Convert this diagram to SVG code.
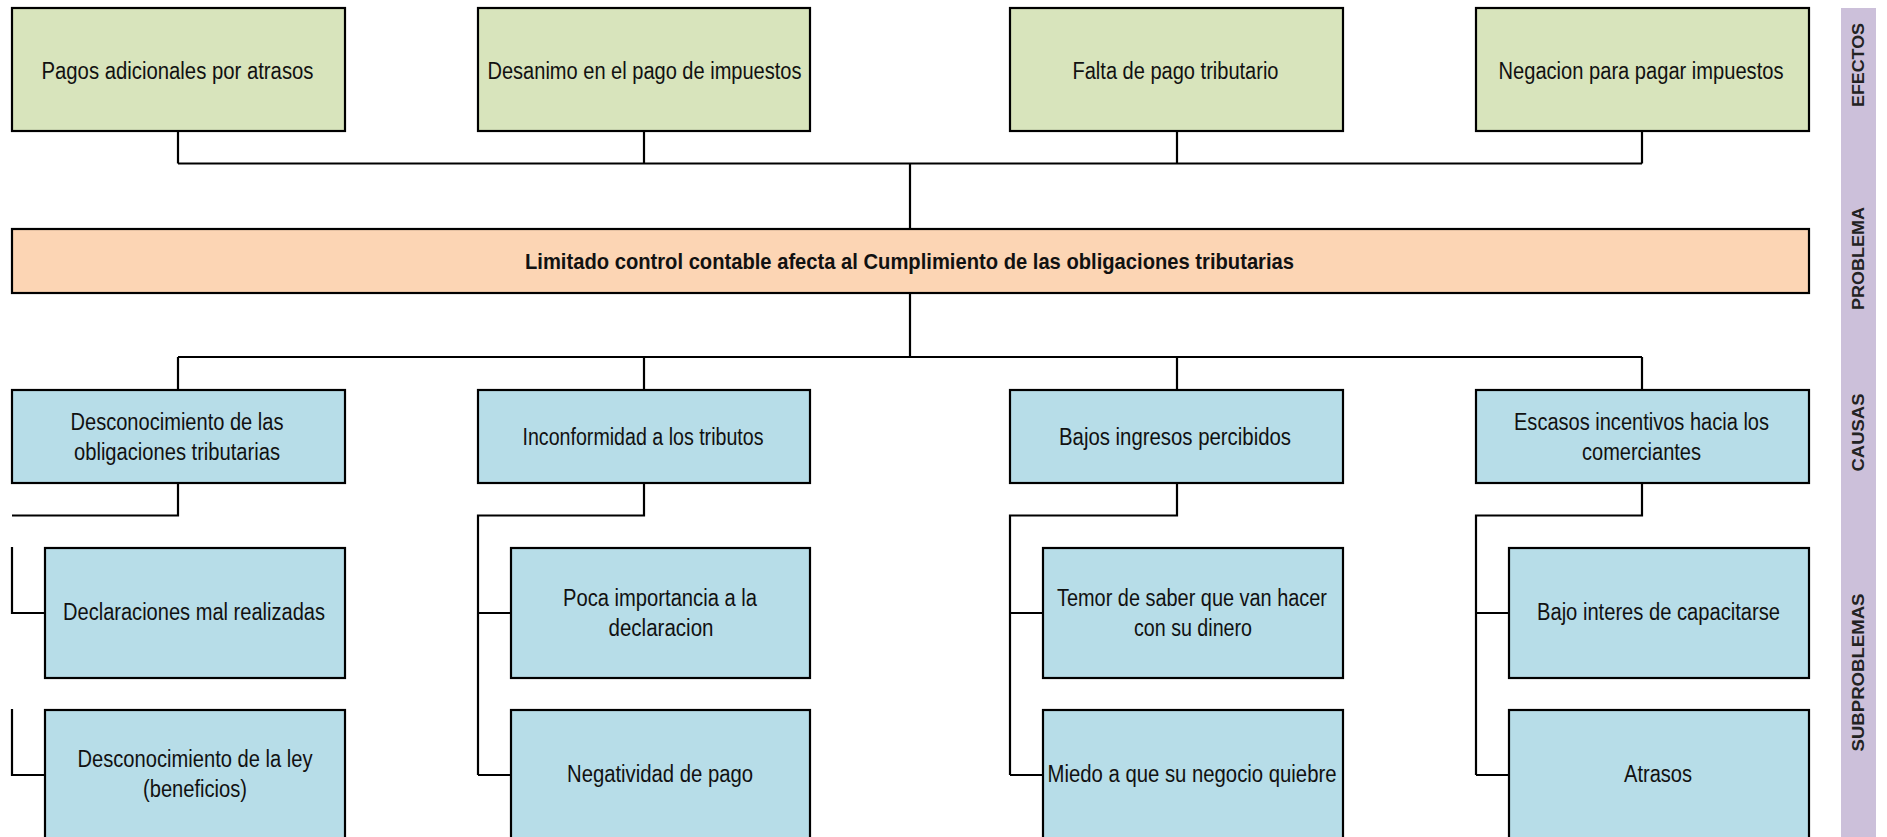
<svg xmlns="http://www.w3.org/2000/svg" width="1887" height="837" viewBox="0 0 1887 837">
<style>
.box{stroke:#000;stroke-width:2.2}
.ef{fill:#d8e4bc}
.pr{fill:#fcd5b4}
.ca{fill:#b7dde8}
.t{font-family:"Liberation Sans",Arial,sans-serif;font-size:23px;fill:#111;text-anchor:middle}
.tb{font-family:"Liberation Sans",Arial,sans-serif;font-size:22px;font-weight:bold;fill:#111;text-anchor:middle}
.lb{font-family:"Liberation Sans",Arial,sans-serif;font-size:16.3px;font-weight:bold;fill:#222;text-anchor:middle}
.c{fill:none;stroke:#000;stroke-width:2.2}
</style>
<rect x="0" y="0" width="1887" height="837" fill="#fff"/>

<g id="connectors">
<path class="c" d="M178,131 V163.5 M644,131 V163.5 M1177,131 V163.5 M1642,131 V163.5 M178,163.5 H1642 M910,163.5 V229"/>
<path class="c" d="M910,293 V357 M178,357 H1642 M178,357 V390 M644,357 V390 M1177,357 V390 M1642,357 V390"/>
<path class="c" d="M178,483 V515.5 H12 M12,547 V613 H45 M12,709 V775 H45"/>
<path class="c" d="M644,483 V515.5 H478 V775 M478,613 H511 M478,775 H511"/>
<path class="c" d="M1177,483 V515.5 H1010 V775 M1010,613 H1043 M1010,775 H1043"/>
<path class="c" d="M1642,483 V515.5 H1476 V775 M1476,613 H1509 M1476,775 H1509"/>
</g>

<g id="efecto1"><rect class="box ef" x="12" y="8" width="333" height="123"/><text class="t" x="177.5" y="78.5" textLength="272" lengthAdjust="spacingAndGlyphs">Pagos adicionales por atrasos</text></g>
<g id="efecto2"><rect class="box ef" x="478" y="8" width="332" height="123"/><text class="t" x="644.5" y="78.5" textLength="314" lengthAdjust="spacingAndGlyphs">Desanimo en el pago de impuestos</text></g>
<g id="efecto3"><rect class="box ef" x="1010" y="8" width="333" height="123"/><text class="t" x="1175.5" y="78.5" textLength="206" lengthAdjust="spacingAndGlyphs">Falta de pago tributario</text></g>
<g id="efecto4"><rect class="box ef" x="1476" y="8" width="333" height="123"/><text class="t" x="1641" y="78.5" textLength="285" lengthAdjust="spacingAndGlyphs">Negacion para pagar impuestos</text></g>

<g id="problema"><rect class="box pr" x="12" y="229" width="1797" height="64"/><text class="tb" x="909.5" y="268.5" textLength="769" lengthAdjust="spacingAndGlyphs">Limitado control contable afecta al Cumplimiento de las obligaciones tributarias</text></g>

<g id="causa1"><rect class="box ca" x="12" y="390" width="333" height="93"/><text class="t" x="177" y="430" textLength="213" lengthAdjust="spacingAndGlyphs">Desconocimiento de las</text><text class="t" x="177" y="460" textLength="206" lengthAdjust="spacingAndGlyphs">obligaciones tributarias</text></g>
<g id="causa2"><rect class="box ca" x="478" y="390" width="332" height="93"/><text class="t" x="643" y="445" textLength="241" lengthAdjust="spacingAndGlyphs">Inconformidad a los tributos</text></g>
<g id="causa3"><rect class="box ca" x="1010" y="390" width="333" height="93"/><text class="t" x="1175" y="445" textLength="232" lengthAdjust="spacingAndGlyphs">Bajos ingresos percibidos</text></g>
<g id="causa4"><rect class="box ca" x="1476" y="390" width="333" height="93"/><text class="t" x="1641.5" y="430" textLength="255" lengthAdjust="spacingAndGlyphs">Escasos incentivos hacia los</text><text class="t" x="1641.5" y="460" textLength="119" lengthAdjust="spacingAndGlyphs">comerciantes</text></g>

<g id="sub1a"><rect class="box ca" x="45" y="548" width="300" height="130"/><text class="t" x="194" y="620" textLength="262" lengthAdjust="spacingAndGlyphs">Declaraciones mal realizadas</text></g>
<g id="sub1b"><rect class="box ca" x="45" y="710" width="300" height="150"/><text class="t" x="195" y="767" textLength="235" lengthAdjust="spacingAndGlyphs">Desconocimiento de la ley</text><text class="t" x="195" y="797" textLength="104" lengthAdjust="spacingAndGlyphs">(beneficios)</text></g>
<g id="sub2a"><rect class="box ca" x="511" y="548" width="299" height="130"/><text class="t" x="660" y="605.5" textLength="194" lengthAdjust="spacingAndGlyphs">Poca importancia a la</text><text class="t" x="661" y="635.5" textLength="105" lengthAdjust="spacingAndGlyphs">declaracion</text></g>
<g id="sub2b"><rect class="box ca" x="511" y="710" width="299" height="150"/><text class="t" x="660" y="782" textLength="186" lengthAdjust="spacingAndGlyphs">Negatividad de pago</text></g>
<g id="sub3a"><rect class="box ca" x="1043" y="548" width="300" height="130"/><text class="t" x="1192" y="605.5" textLength="270" lengthAdjust="spacingAndGlyphs">Temor de saber que van hacer</text><text class="t" x="1193" y="635.5" textLength="118" lengthAdjust="spacingAndGlyphs">con su dinero</text></g>
<g id="sub3b"><rect class="box ca" x="1043" y="710" width="300" height="150"/><text class="t" x="1192" y="782" textLength="289" lengthAdjust="spacingAndGlyphs">Miedo a que su negocio quiebre</text></g>
<g id="sub4a"><rect class="box ca" x="1509" y="548" width="300" height="130"/><text class="t" x="1658.5" y="620" textLength="243" lengthAdjust="spacingAndGlyphs">Bajo interes de capacitarse</text></g>
<g id="sub4b"><rect class="box ca" x="1509" y="710" width="300" height="150"/><text class="t" x="1658" y="782" textLength="68" lengthAdjust="spacingAndGlyphs">Atrasos</text></g>

<g id="bandas">
<rect x="1841" y="8" width="35" height="840" fill="#ccc0da"/>
<text class="lb" transform="translate(1863.5,65) rotate(-90)" textLength="84" lengthAdjust="spacingAndGlyphs">EFECTOS</text>
<text class="lb" transform="translate(1863.5,258.5) rotate(-90)" textLength="103" lengthAdjust="spacingAndGlyphs">PROBLEMA</text>
<text class="lb" transform="translate(1863.5,432.5) rotate(-90)" textLength="78" lengthAdjust="spacingAndGlyphs">CAUSAS</text>
<text class="lb" transform="translate(1863.5,672.5) rotate(-90)" textLength="158" lengthAdjust="spacingAndGlyphs">SUBPROBLEMAS</text>
</g>
</svg>
